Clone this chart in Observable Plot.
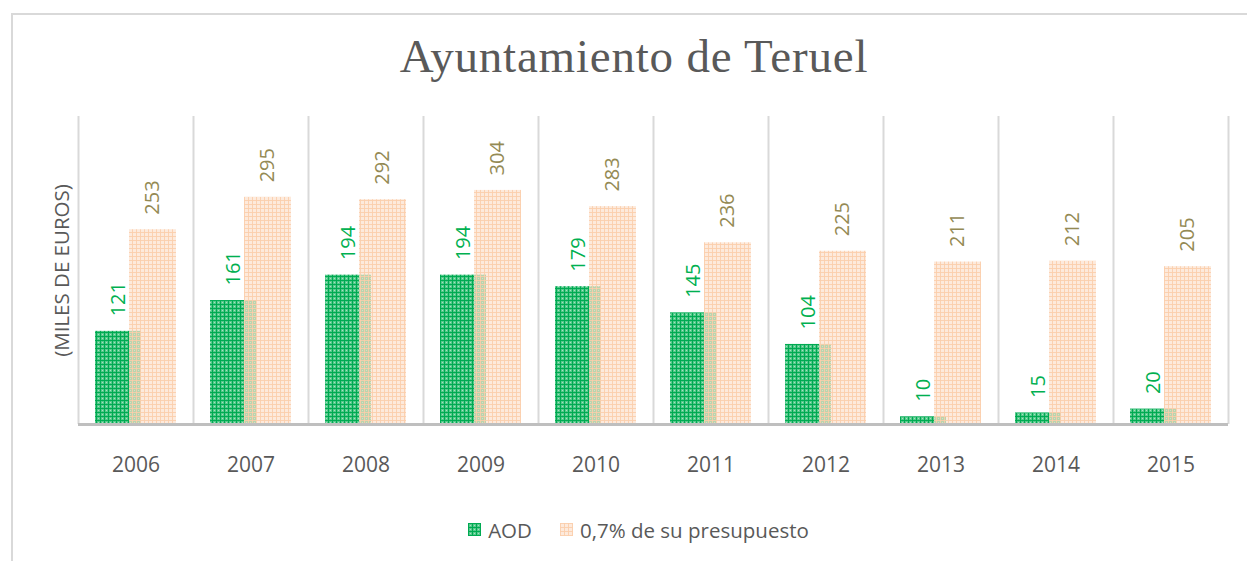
<!DOCTYPE html>
<html>
<head>
<meta charset="utf-8">
<script src="https://cdn.jsdelivr.net/npm/d3@7"></script>
<script src="https://cdn.jsdelivr.net/npm/@observablehq/plot@0.6"></script>
<style>
  html, body { margin: 0; padding: 0; background: #fff; width: 1247px; height: 561px; overflow: hidden; }
  #frame { position: absolute; left: 11px; top: 13px; width: 1300px; height: 600px; border-left: 2px solid #d9d9d9; border-top: 2px solid #d9d9d9; box-sizing: border-box; }
  #title { position: absolute; left: 0; width: 1268px; top: 29px; text-align: center; font-family: "Liberation Serif", "DejaVu Serif", serif; font-size: 47px; color: #595959; letter-spacing: 0.8px; }
  #chart { position: absolute; left: 0; top: 0; }
  #legend { position: absolute; left: 0; width: 1277px; top: 514px; text-align: center; font-family: "Open Sans", sans-serif; font-size: 20.5px; color: #595959; }
  #legend span.item { display: inline-flex; align-items: center; margin: 0 14px; }
  #legend svg { margin-right: 7px; }
</style>
</head>
<body>
<svg width="0" height="0" style="position:absolute">
  <defs>
    <pattern id="pGreen" width="4" height="4" patternUnits="userSpaceOnUse">
      <rect width="4" height="4" fill="#55c98b"/>
      <rect width="4" height="1" fill="#00aa52"/>
      <rect width="1" height="4" fill="#00aa52"/>
      <rect x="2" y="2" width="1" height="1" fill="#a6e3c0"/>
    </pattern>
    <pattern id="pPeach" width="4" height="4" patternUnits="userSpaceOnUse">
      <rect width="4" height="4" fill="rgba(252,220,196,0.6)"/>
      <rect width="4" height="1" fill="rgba(251,206,172,0.9)"/>
      <rect width="1" height="4" fill="rgba(251,206,172,0.9)"/>
    </pattern>
  </defs>
</svg>
<div id="frame"></div>
<div id="title">Ayuntamiento de Teruel</div>
<div id="chart"></div>
<div id="legend"></div>
<script>
const years = ["2006","2007","2008","2009","2010","2011","2012","2013","2014","2015"];
const aod = [121,161,194,194,179,145,104,10,15,20];
const presupuesto = [253,295,292,304,283,236,225,211,212,205];
const seriesNames = ["AOD","0,7% de su presupuesto"];
const yLabel = "(MILES DE EUROS)";

const rowsA = years.map((y,i)=>({year:y, value:aod[i]}));
const rowsP = years.map((y,i)=>({year:y, value:presupuesto[i]}));

const chart = Plot.plot({
  width: 1247,
  height: 500,
  marginTop: 116,
  marginBottom: 76,
  marginLeft: 78,
  marginRight: 19,
  x: {type: "band", domain: years, paddingInner: 0, paddingOuter: 0},
  y: {domain: [0, 400], axis: null},
  style: {fontFamily: "Open Sans, sans-serif", background: "transparent"},
  marks: [
    Plot.ruleX(years, {x: d => d, dx: -57.5, stroke: "#d9d9d9", strokeWidth: 2, y1: 0, y2: 400}),
    Plot.ruleX([years[years.length-1]], {x: d => d, dx: 57.5, stroke: "#d9d9d9", strokeWidth: 2, y1: 0, y2: 400}),
    Plot.barY(rowsA, {x: "year", y: "value", fill: "url(#pGreen)", insetLeft: 17, insetRight: 52}),
    Plot.barY(rowsP, {x: "year", y: "value", fill: "url(#pPeach)", insetLeft: 51, insetRight: 17}),
    Plot.text(rowsA, {x: "year", y: "value", text: d => String(d.value), rotate: -90, textAnchor: "start", lineAnchor: "middle", dx: -17.5, dy: -15, fill: "#00b050", fontSize: 20}),
    Plot.text(rowsP, {x: "year", y: "value", text: d => String(d.value), rotate: -90, textAnchor: "start", lineAnchor: "middle", dx: 16.5, dy: -15, fill: "#948a54", fontSize: 20}),
    Plot.ruleY([0], {stroke: "#bfbfbf", strokeWidth: 3}),
    Plot.axisX({tickSize: 0, tickPadding: 33, fontSize: 21, color: "#595959", label: null}),
    Plot.text([yLabel], {frameAnchor: "left", text: d => d, rotate: -90, dx: -16, textAnchor: "middle", lineAnchor: "middle", fill: "#595959", fontSize: 20.5})
  ]
});
document.getElementById("chart").appendChild(chart);

const legend = document.getElementById("legend");
const fills = ["url(#pGreen)", "url(#pPeach)"];
seriesNames.forEach((name, i) => {
  const item = document.createElement("span");
  item.className = "item";
  item.innerHTML = `<svg width="13" height="13"><rect width="13" height="13" fill="${fills[i]}"/></svg>${name}`;
  legend.appendChild(item);
});
</script>
</body>
</html>
